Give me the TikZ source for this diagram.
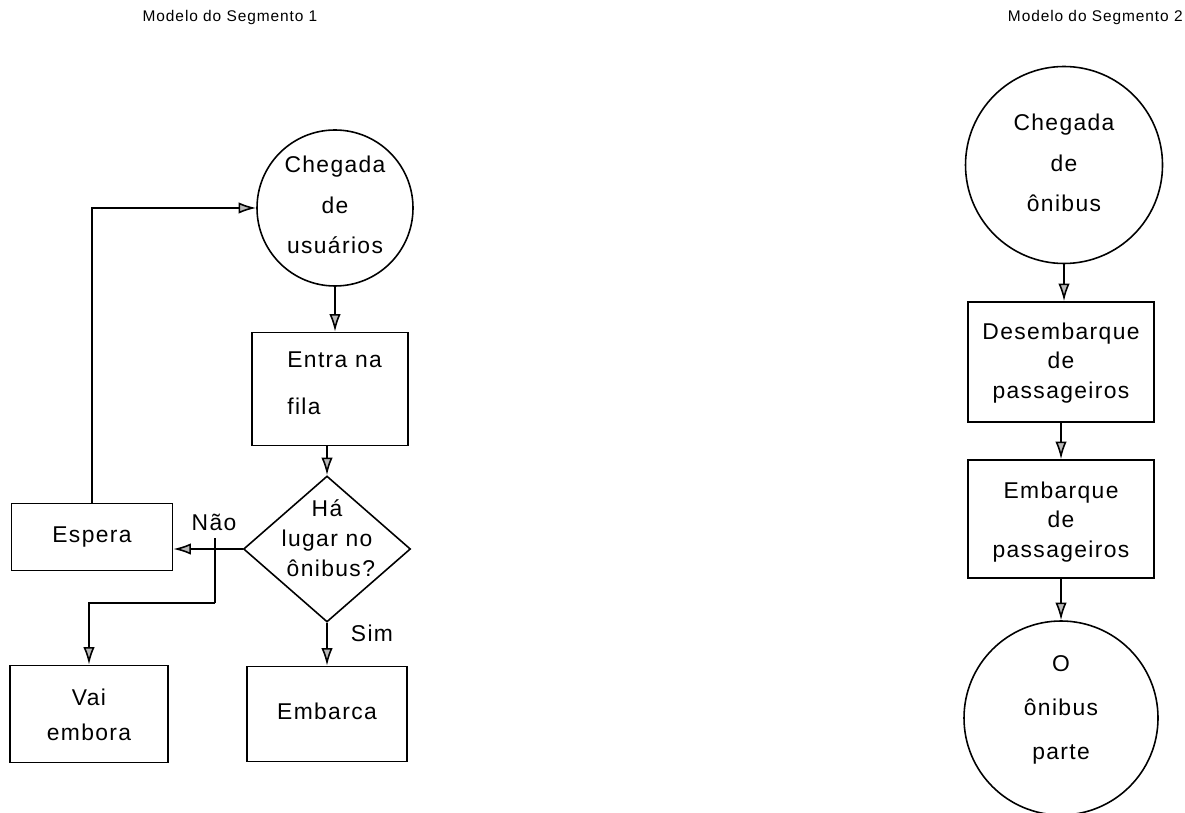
\documentclass[tikz,border=0pt]{standalone}
\usepackage{fontspec}
\setmainfont[LetterSpace=6]{Liberation Sans}
\usetikzlibrary{arrows.meta,shapes.geometric}
\begin{document}
\begin{tikzpicture}[x=0.02cm,y=-0.02cm,
  lbl/.style={font=\fontsize{13}{#1}\selectfont,align=center,inner sep=0pt},
  lbl/.default=22,
  procbox/.style={draw,line width=0.9pt,inner sep=0pt},
  circ/.style={draw,circle,line width=0.9pt,inner sep=0pt},
  flow/.style={line width=0.9pt,-{Latex[length=10pt,width=6.5pt,fill=gray!55]}},
  line/.style={line width=0.9pt},
  ttl/.style={font=\fontsize{8.8}{11}\selectfont,inner sep=0pt}]
\useasboundingbox (0,0) rectangle (1185,813);
% titles
\node[ttl] (t1) at (230,18) {Modelo do Segmento 1};
\node[ttl,anchor=east] (t2) at (1183,18) {Modelo do Segmento 2};
% segment 1
\node[circ,minimum size=156*0.02cm] (cu) at (335,208) {};
\node[lbl=23] (cut) at (335,205) {Chegada\\de\\usuários};
\node[procbox,minimum width=156*0.02cm,minimum height=113*0.02cm] (fila) at (330,389) {};
\node[lbl=27,align=left,anchor=west] (filat) at (287,383) {Entra na\\fila};
\node[draw,diamond,aspect=1.14,line width=0.9pt,minimum width=167*0.02cm,minimum height=146*0.02cm,inner sep=0pt] (dec) at (327,549) {};
\node[lbl=17] (dect) at (327,538) {Há\\lugar no\\ \ ônibus?};
\node[procbox,minimum width=161*0.02cm,minimum height=67*0.02cm] (esp) at (92,537) {};
\node[lbl] (espt) at (92,537) {Espera};
\node[procbox,minimum width=158*0.02cm,minimum height=97*0.02cm] (vai) at (89,714) {};
\node[lbl=20] (vait) at (89,715) {Vai\\embora};
\node[procbox,minimum width=160*0.02cm,minimum height=95*0.02cm] (emb) at (327,714) {};
\node[lbl] (embt) at (327,711) {Embarca};
\node[lbl,anchor=south] (nao) at (214,531) {Não};
\node[lbl] (sim) at (372,633) {Sim};
\coordinate (br) at (215,538);
\coordinate (bd) at (215,603);
\draw[flow] (cu.south) -- (fila.north -| cu.south);
\draw[flow] (fila.south -| dec.north) -- (dec.north);
\draw[flow] (dec.west) -- (esp.east |- dec.west);
\draw[line] (br) -- (bd);
\draw[flow] (bd) -| (vai.north);
\draw[flow] (dec.south) -- (emb.north -| dec.south);
\draw[flow] (esp.north) |- (cu.west);
% segment 2
\node[circ,minimum size=197*0.02cm] (cb) at (1064,165) {};
\node[lbl=23] (cbt) at (1064,163) {Chegada\\de\\ônibus};
\node[procbox,minimum width=186*0.02cm,minimum height=120*0.02cm] (des) at (1061,362) {};
\node[lbl=17] (dest) at (1061,363) {Desembarque\\de\\passageiros};
\node[procbox,minimum width=186*0.02cm,minimum height=118*0.02cm] (emq) at (1061,519) {};
\node[lbl=17] (emqt) at (1061,522) {Embarque\\de\\passageiros};
\node[circ,minimum size=194*0.02cm] (op) at (1061,718) {};
\node[lbl=25] (opt) at (1061,710) {O\\ônibus\\parte};
\draw[flow] (cb.south) -- (des.north -| cb.south);
\draw[flow] (des.south) -- (emq.north);
\draw[flow] (emq.south) -- (op.north);
\end{tikzpicture}
\end{document}
